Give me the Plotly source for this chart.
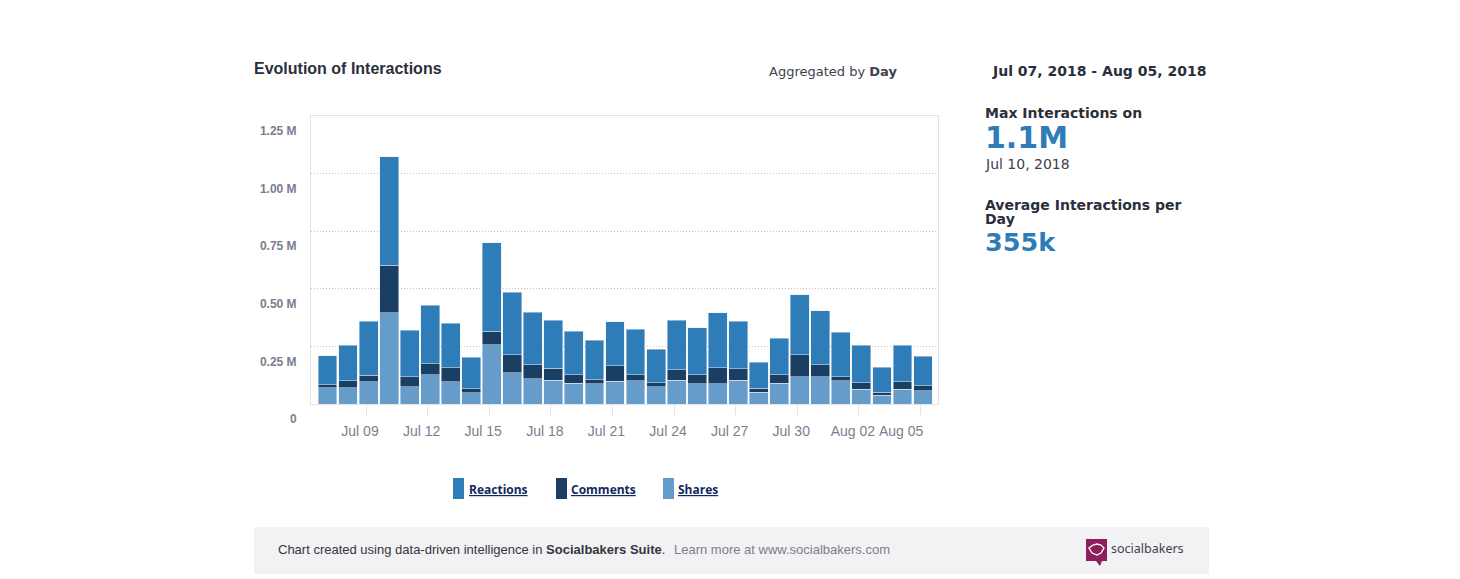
import pandas as pd
import plotly.graph_objects as go

W, H = 1460, 579

# daily values
dates = pd.date_range("2018-07-07", "2018-08-05", freq="D")
shares = [70000, 70000, 96000, 396000, 74000, 126000, 96000, 48000, 257000, 135000,
          109000, 104000, 91000, 87000, 99000, 100000, 74000, 104000, 87000, 87000,
          104000, 52000, 91000, 118000, 118000, 100000, 65000, 39000, 65000, 57000]
comments = [14500, 30000, 28000, 206000, 45000, 48000, 61000, 19000, 58000, 78000,
            61000, 52000, 35000, 19000, 68000, 26000, 19000, 45000, 41000, 70000,
            49000, 16000, 36000, 96000, 52000, 19000, 28000, 13000, 32000, 23000]
reactions = [126000, 154000, 236000, 472000, 202000, 255000, 194000, 136000, 385000, 273000,
             229000, 207000, 190000, 171000, 189000, 199000, 145000, 215000, 202000, 238000,
             206000, 113000, 158000, 260000, 234000, 193000, 163000, 107000, 158000, 128000]

y_ticks = [0, 250000, 500000, 750000, 1000000, 1250000]
y_labels = ["0", "0.25 M", "0.50 M", "0.75 M", "1.00 M", "1.25 M"]
x_ticks = pd.date_range("2018-07-09", "2018-08-05", freq="3D")
x_labels = [d.strftime("%b %d") for d in x_ticks]

BLUE = "#2e7cb8"
NAVY = "#1a3f62"
LIGHT = "#659cc9"
DARK = "#2b2f3b"
GREY = "#7b7e8e"


def fx(px):
    return px / W


def fy(px):
    return 1 - px / H


fig = go.Figure()
fig.add_trace(go.Bar(x=dates, y=shares, name="Shares", marker_color=LIGHT))
fig.add_trace(go.Bar(x=dates, y=comments, name="Comments", marker_color=NAVY))
fig.add_trace(go.Bar(x=dates, y=reactions, name="Reactions", marker_color=BLUE))

fig.update_layout(
    barmode="stack",
    bargap=0.08,
    width=W,
    height=H,
    margin=dict(l=0, r=0, t=0, b=0),
    paper_bgcolor="white",
    plot_bgcolor="white",
    showlegend=False,
    font=dict(family="Liberation Sans", color=GREY),
)

# ticks sit a little left of the bar centres in the original
# the last label is placed by hand further down, it dodges Aug 02
fig.update_xaxes(
    domain=[fx(311), fx(938)],
    range=["2018-07-06 04:43", "2018-08-05 17:30"],
    tickmode="array",
    tickvals=x_ticks - pd.Timedelta(hours=3),
    ticktext=x_labels[:-1] + [""],
    ticks="outside", ticklen=10, tickcolor="#e3e3e6", tickwidth=1,
    ticklabelshift=-6,
    ticklabelstandoff=4,
    tickfont=dict(size=14, color=GREY),
    showgrid=False,
    automargin=False,
    showline=True, linecolor="#e3e3e6", mirror=True,
)
fig.update_yaxes(
    domain=[fy(404), fy(116)],
    range=[0, 1250000],
    tickmode="array",
    tickvals=y_ticks,
    ticktext=["<b>%s</b>" % t for t in y_labels],
    ticks="",
    ticklabelshift=15,
    ticklabelstandoff=11,
    tickfont=dict(size=12, color=GREY),
    showgrid=True, gridcolor="#c4c4c8", griddash="1px,2px", gridwidth=1,
    zeroline=False,
    automargin=False,
    showline=True, linecolor="#e3e3e6", mirror=True,
)


def note(text, x, y, size, color=DARK, family="DejaVu Sans", anchor="left"):
    # 2px is the annotation's own padding
    x = x - 2 if anchor == "left" else x + 2
    fig.add_annotation(
        text=text, x=fx(x), y=fy(y), xref="paper", yref="paper",
        xanchor=anchor, yanchor="middle", showarrow=False, align="left",
        font=dict(family=family, size=size, color=color),
    )


note("<b>Evolution of Interactions</b>", 254, 68, 16, DARK, "Liberation Sans")
note("Aggregated by <b>Day</b>", 769, 71, 13, "#3d4150")
note("<b>Jul 07, 2018 - Aug 05, 2018</b>", 1206, 71, 14, anchor="right")
note("<b>Max Interactions on</b>", 985, 113, 14)
note("<b>1.1M</b>", 985, 138, 30, BLUE)
note("Jul 10, 2018", 985, 164, 14, "#3d4150")
note("<b>Average Interactions per</b>", 985, 205, 14)
note("<b>Day</b>", 985, 219, 14)
note("<b>355k</b>", 985, 242, 25.5, BLUE)

fig.add_annotation(
    text=x_labels[-1], x=x_ticks[-1] - pd.Timedelta(hours=3), y=0, xref="x", yref="y",
    xshift=-19, yshift=-27, showarrow=False, xanchor="center", yanchor="middle",
    font=dict(family="Liberation Sans", size=14, color=GREY),
)

# legend built by hand, the swatches are tall rectangles
for label, color, x0, tx in [("Reactions", BLUE, 453, 469),
                             ("Comments", NAVY, 556, 571),
                             ("Shares", LIGHT, 663, 678)]:
    fig.add_shape(type="rect", xref="paper", yref="paper", x0=fx(x0), x1=fx(x0 + 11),
                  y0=fy(478), y1=fy(499), fillcolor=color, line_width=0)
    note("<u><b>%s</b></u>" % label, tx, 489, 12, "#11295c", "Open Sans")

# footer band
fig.add_shape(type="rect", xref="paper", yref="paper", x0=fx(254), x1=fx(1209),
              y0=fy(527), y1=fy(574), fillcolor="#f2f2f4", line_width=0)
note("Chart created using data-driven intelligence in <b>Socialbakers Suite</b>.",
     278, 549.5, 13, "#33363f", "Liberation Sans")
note("Learn more at www.socialbakers.com", 674, 549.5, 13, GREY, "Liberation Sans")

# logo
fig.add_shape(
    type="path", xref="paper", yref="paper", line_width=0, fillcolor="#8e1f5c",
    path="M %f,%f L %f,%f L %f,%f L %f,%f L %f,%f L %f,%f L %f,%f Z" % (
        fx(1086), fy(539), fx(1107), fy(539), fx(1107), fy(561), fx(1102), fy(561),
        fx(1100), fy(566), fx(1096), fy(561), fx(1086), fy(561)),
)
fig.add_shape(
    type="path", xref="paper", yref="paper", line=dict(color="white", width=1.3),
    path="M %f,%f L %f,%f L %f,%f L %f,%f L %f,%f L %f,%f L %f,%f L %f,%f Z" % (
        fx(1092), fy(553), fx(1089), fy(548), fx(1093), fy(545), fx(1097), fy(544),
        fx(1101), fy(545), fx(1104), fy(548), fx(1101), fy(553), fx(1097), fy(555)),
)
note("socialbakers", 1111, 548, 12.5, "#3d4150", "Noto Sans")

fig.write_html("out.html", config={"displayModeBar": False},
               post_script="document.body.style.margin='0';")
